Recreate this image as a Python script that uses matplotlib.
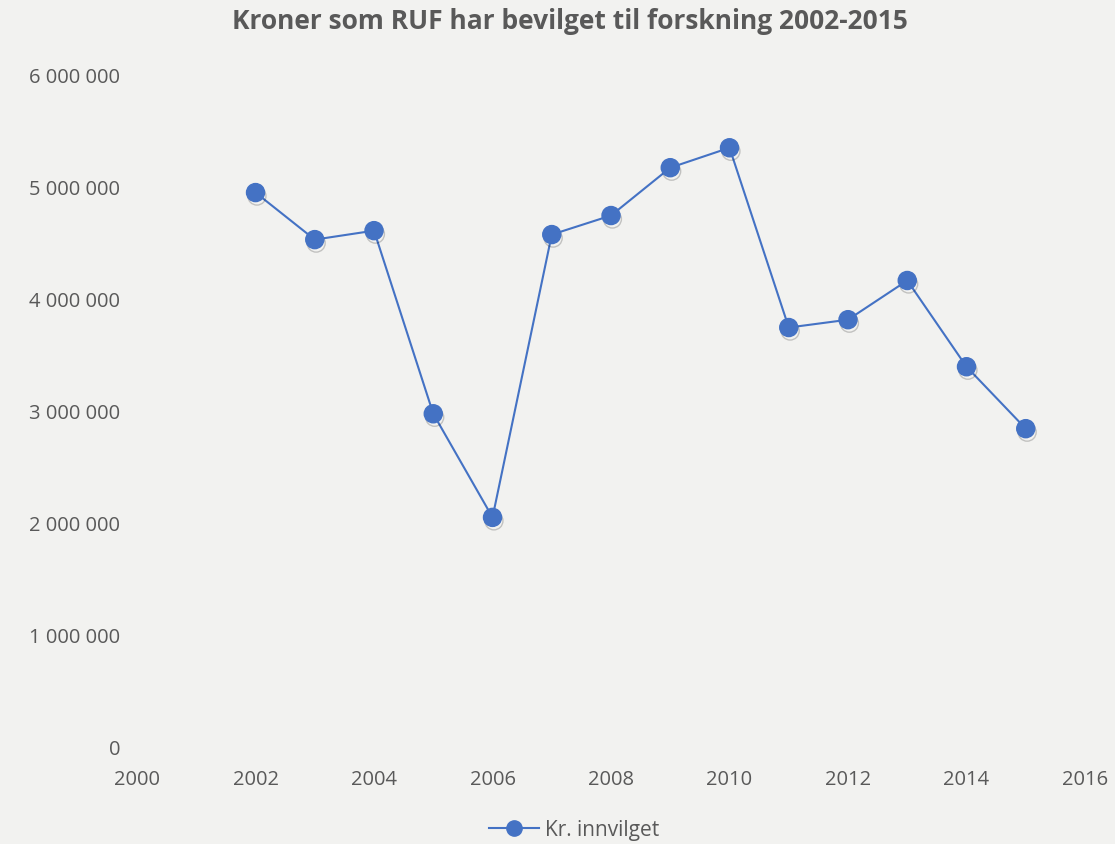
import matplotlib
matplotlib.use("Agg")
import matplotlib.pyplot as plt
from matplotlib.ticker import FuncFormatter
import matplotlib.patheffects as pe

# data
years = [2002, 2003, 2004, 2005, 2006, 2007, 2008, 2009, 2010, 2011, 2012, 2013, 2014, 2015]
kroner = [4950000, 4530000, 4610000, 2975000, 2050000, 4575000, 4745000,
          5172000, 5350000, 3745000, 3815000, 4165000, 3395000, 2842000]
x_ticks = list(range(2000, 2017, 2))
y_ticks = list(range(0, 6000001, 1000000))

bg = "#F2F2F0"
blue = "#4472C4"
grey = "#595959"

plt.rcParams['font.family'] = ['Open Sans', 'DejaVu Sans']

fig = plt.figure(figsize=(11.15, 8.45), dpi=100, facecolor=bg)
ax = fig.add_axes([0.1229, 0.1148, 0.8502, 0.7953], facecolor=bg)

ax.plot(years, kroner, color=blue, lw=1.5, zorder=2)
# markers with a soft drop shadow
ax.plot(years, kroner, ls='none', marker='o', ms=13, color=blue, zorder=3,
        path_effects=[pe.SimpleLineShadow(offset=(1, -2.5), alpha=0.2, shadow_color='black'),
                      pe.Normal()])
line, = ax.plot([], [], color=blue, lw=1.5, marker='o', ms=11, label="Kr. innvilget")

ax.set_xlim(2000, 2016)
ax.set_ylim(0, 6000000)
ax.set_xticks(x_ticks)
ax.set_yticks(y_ticks)
ax.yaxis.set_major_formatter(FuncFormatter(lambda v, p: f"{int(v):,}".replace(",", " ")))
ax.tick_params(length=0, labelsize=14.5, colors=grey)
ax.tick_params(axis='y', pad=12)
ax.tick_params(axis='x', pad=16)
for s in ax.spines.values():
    s.set_visible(False)

fig.suptitle("Kroner som RUF har bevilget til forskning 2002-2015", x=0.511, y=0.99,
             fontsize=19, fontweight='bold', color=grey)

fig.legend(handles=[line], loc='lower center', bbox_to_anchor=(0.515, -0.018),
           frameon=False, fontsize=15, labelcolor=grey, handlelength=2.4,
           handletextpad=0.3)

fig.savefig("out.png", dpi=100, facecolor=bg)
